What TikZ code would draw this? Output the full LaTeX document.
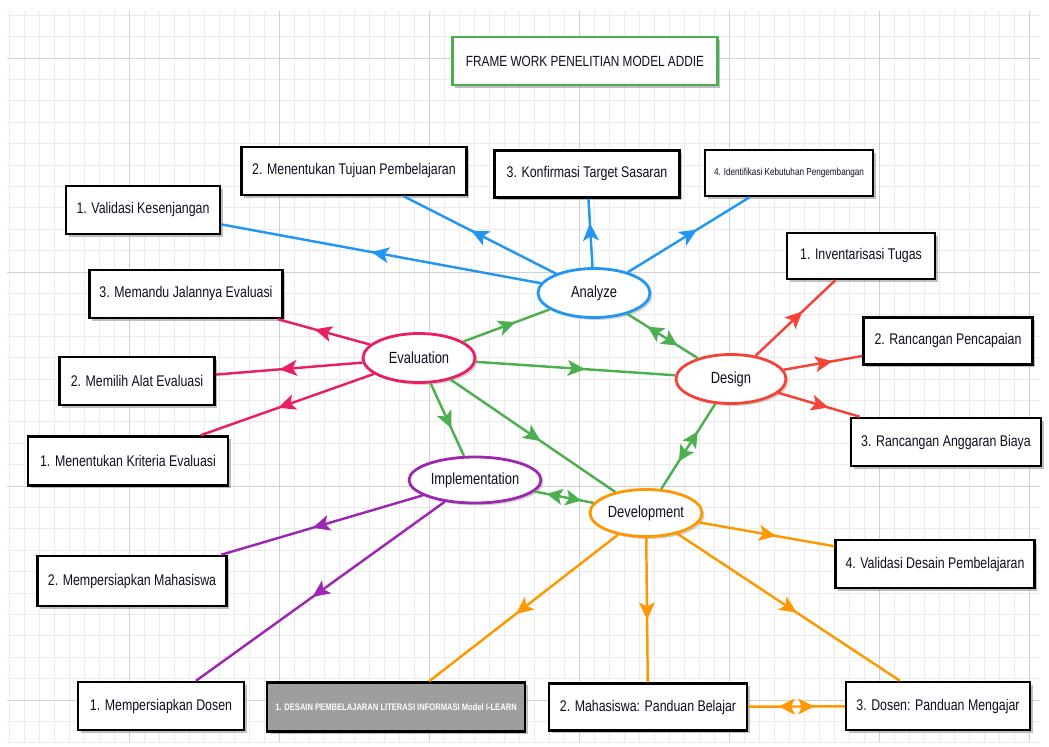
\documentclass[tikz,border=0pt]{standalone}
\usepackage{fontspec}
\setmainfont{Liberation Sans}[FakeStretch=0.8]
\usetikzlibrary{shapes.geometric,shadows,decorations.markings}

\definecolor{cblue}{RGB}{33,150,243}
\definecolor{ccrimson}{RGB}{233,30,99}
\definecolor{cred}{RGB}{244,67,54}
\definecolor{cgreen}{RGB}{76,175,80}
\definecolor{cpurple}{RGB}{156,39,176}
\definecolor{corange}{RGB}{255,152,0}
\definecolor{ctext}{RGB}{15,15,30}

\tikzset{
  gridminor/.style={line width=0.3pt, color=black!8},
  gridmajor/.style={line width=0.4pt, color=black!18},
  box/.style={draw=black, line width=1.4pt, fill=white, minimum height=0.96cm, inner sep=2pt,
    font=\fontsize{8.8}{10}\selectfont, text=ctext,
    drop shadow={shadow xshift=1.6pt, shadow yshift=-1.6pt, fill=black!50}},
  phase/.style={ellipse, draw, line width=1.6pt, fill=white, minimum width=2.24cm,
    minimum height=0.98cm, inner sep=0pt, font=\fontsize{9.2}{11}\selectfont, text=ctext,
    drop shadow={shadow xshift=1.4pt, shadow yshift=-1.4pt, fill=black!35}},
  link/.style={line width=1.4pt},
  mid/.style={postaction={decorate, decoration={markings,
    mark=at position 0.5 with {\fill (5.5pt,0) -- (-4.5pt,4.6pt) -- (-2pt,0) -- (-4.5pt,-4.6pt) -- cycle;}}}},
  both/.style={postaction={decorate, decoration={markings,
    mark=at position 0.5 with {\fill (-10pt,0) -- (-1pt,4.6pt) -- (-3pt,0) -- (-1pt,-4.6pt) -- cycle;
      \fill (10pt,0) -- (1pt,4.6pt) -- (3pt,0) -- (1pt,-4.6pt) -- cycle;}}}}
}

\begin{document}
\begin{tikzpicture}[x=0.02cm, y=-0.02cm]
    \useasboundingbox (0,0) rectangle (1049,747);
    % grid paper
    \foreach \x in {0,...,68} \draw[gridminor] ({9+15*\x},11) -- ({9+15*\x},742);
    \foreach \y in {0,...,34} \draw[gridminor] (7,{15+21.4*\y}) -- (1040,{15+21.4*\y});
    \foreach \x in {129,279,429,579,729,879,1029} \draw[gridmajor] (\x,11) -- (\x,742);
    \foreach \y in {58,272,486,700} \draw[gridmajor] (7,\y) -- (1040,\y);

    % title
    \node[box, draw=cgreen, minimum width=5.3cm, font=\fontsize{8.4}{10}\selectfont] (title) at (585,61) {FRAME WORK PENELITIAN MODEL ADDIE};

    % phases
    \node[phase, draw=cblue] (analyze) at (594,293) {Analyze};
    \node[phase, draw=ccrimson] (eval) at (419,358) {Evaluation};
    \node[phase, draw=cred, minimum width=2.2cm] (design) at (731,379) {Design};
    \node[phase, draw=cpurple, minimum width=2.64cm, minimum height=0.92cm] (impl) at (475,480) {Implementation};
    \node[phase, draw=corange, minimum height=0.94cm] (dev) at (646,513) {Development};

    % analyze
    \node[box, minimum width=3.08cm] (validasi) at (143,210) {1. Validasi Kesenjangan};
    \node[box, minimum width=4.5cm] (tujuan) at (354,171) {2. Menentukan Tujuan Pembelajaran};
    \node[box, minimum width=3.7cm, minimum height=0.94cm] (target) at (587,174) {3. Konfirmasi Target Sasaran};
    \node[box, minimum width=3.36cm, minimum height=0.92cm, font=\fontsize{5.8}{7}\selectfont] (kebutuhan) at (789,173) {4. Identifikasi Kebutuhan Pengembangan};

    % design
    \node[box, minimum width=2.96cm, minimum height=0.92cm] (tugas) at (861,256) {1. Inventarisasi Tugas};
    \node[box, minimum width=3.38cm, minimum height=0.94cm] (capai) at (948,341) {2. Rancangan Pencapaian};
    \node[box, minimum width=3.8cm] (biaya) at (946,442) {3. Rancangan Anggaran Biaya};

    % evaluation
    \node[box, minimum width=3.86cm] (memandu) at (186,294) {3. Memandu Jalannya Evaluasi};
    \node[box, minimum width=3.1cm] (alat) at (137,381) {2. Memilih Alat Evaluasi};
    \node[box, minimum width=4.0cm, minimum height=0.98cm] (kriteria) at (128,461) {1. Menentukan Kriteria Evaluasi};

    % implementation
    \node[box, minimum width=3.78cm, minimum height=1.0cm] (siswa) at (132,581) {2. Mempersiapkan Mahasiswa};
    \node[box, minimum width=3.32cm] (dosen) at (161,706) {1. Mempersiapkan Dosen};

    % development
    \node[box, minimum width=3.98cm] (valdesain) at (935,564) {4. Validasi Desain Pembelajaran};
    \node[box, fill=black!38, text=white, minimum width=5.16cm, minimum height=0.98cm, font=\fontsize{5.4}{7}\selectfont\bfseries] (ilearn) at (396,707) {1. DESAIN PEMBELAJARAN LITERASI INFORMASI Model I-LEARN};
    \node[box, minimum width=3.96cm, minimum height=0.94cm] (belajar) at (648,707) {2. Mahasiswa: Panduan Belajar};
    \node[box, minimum width=3.68cm] (mengajar) at (938,706) {3. Dosen: Panduan Mengajar};

    % blue
    \draw[link, color=cblue, mid] (analyze) -- (validasi);
    \draw[link, color=cblue, mid] (analyze) -- (tujuan);
    \draw[link, color=cblue, mid] (analyze) -- (target);
    \draw[link, color=cblue, mid] (analyze) -- (kebutuhan);
    % red
    \draw[link, color=cred, mid] (design) -- (tugas);
    \draw[link, color=cred, mid] (design) -- (capai);
    \draw[link, color=cred, mid] (design) -- (biaya);
    % crimson
    \draw[link, color=ccrimson, mid] (eval) -- (memandu);
    \draw[link, color=ccrimson, mid] (eval) -- (alat);
    \draw[link, color=ccrimson, mid] (eval) -- (kriteria);
    % purple
    \draw[link, color=cpurple, mid] (impl) -- (siswa);
    \draw[link, color=cpurple, mid] (impl) -- (dosen);
    % orange
    \draw[link, color=corange, mid] (dev) -- (valdesain);
    \draw[link, color=corange, mid] (dev) -- (ilearn);
    \draw[link, color=corange, mid] (dev) -- (belajar);
    \draw[link, color=corange, mid] (dev) -- (mengajar);
    \draw[link, color=corange, both] (belajar) -- (mengajar);
    % green
    \draw[link, color=cgreen, mid] (eval) -- (analyze);
    \draw[link, color=cgreen, mid] (eval) -- (design);
    \draw[link, color=cgreen, mid] (eval) -- (impl);
    \draw[link, color=cgreen, mid] (eval) -- (dev);
    \draw[link, color=cgreen, both] (analyze) -- (design);
    \draw[link, color=cgreen, both] (design) -- (dev);
    \draw[link, color=cgreen, both] (impl) -- (dev);
\end{tikzpicture}
\end{document}
